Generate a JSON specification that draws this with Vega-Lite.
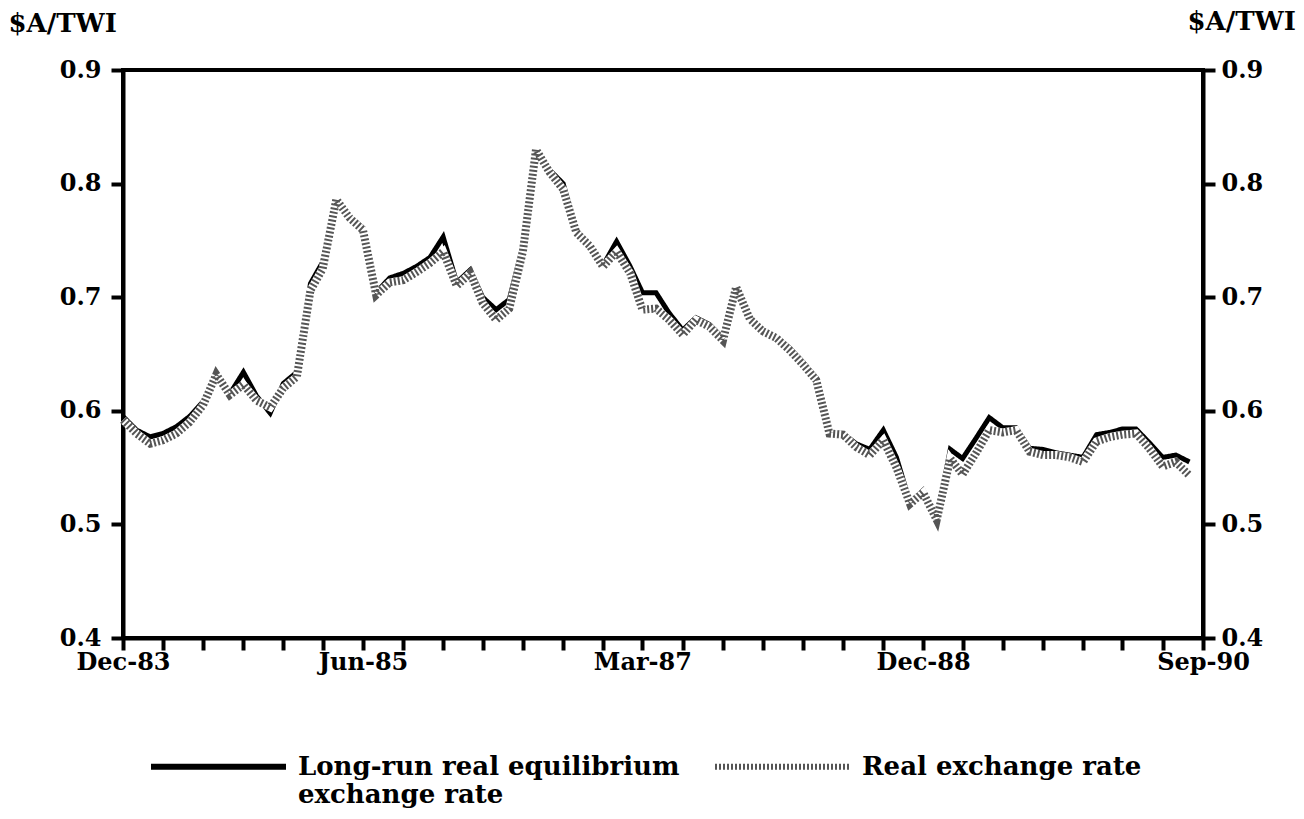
{
  "$schema": "https://vega.github.io/schema/vega-lite/v6.json",
  "width": 1080,
  "height": 568,
  "autosize": {"type": "none"},
  "padding": {"left": 123, "top": 70, "right": 101, "bottom": 181},
  "background": "white",
  "config": {
    "font": "DejaVu Serif",
    "view": {"stroke": "black", "strokeWidth": 4},
    "axis": {
      "grid": false,
      "domainColor": "black",
      "domainWidth": 4,
      "tickColor": "black",
      "tickWidth": 4,
      "tickSize": 12,
      "labelFont": "DejaVu Serif",
      "labelFontSize": 24,
      "labelFontWeight": "bold",
      "labelColor": "black",
      "titleFont": "DejaVu Serif",
      "titleFontSize": 26,
      "titleFontWeight": "bold",
      "titleColor": "black"
    }
  },
  "data": {
    "values": [
      {"date": "1983-12-01", "lr": 0.595, "rer": 0.592},
      {"date": "1984-01-01", "lr": 0.583, "rer": 0.580},
      {"date": "1984-02-01", "lr": 0.577, "rer": 0.571},
      {"date": "1984-03-01", "lr": 0.580, "rer": 0.574},
      {"date": "1984-04-01", "lr": 0.586, "rer": 0.580},
      {"date": "1984-05-01", "lr": 0.595, "rer": 0.590},
      {"date": "1984-06-01", "lr": 0.608, "rer": 0.605},
      {"date": "1984-07-01", "lr": 0.633, "rer": 0.632},
      {"date": "1984-08-01", "lr": 0.615, "rer": 0.614},
      {"date": "1984-09-01", "lr": 0.634, "rer": 0.623},
      {"date": "1984-10-01", "lr": 0.613, "rer": 0.609},
      {"date": "1984-11-01", "lr": 0.598, "rer": 0.603},
      {"date": "1984-12-01", "lr": 0.624, "rer": 0.620},
      {"date": "1985-01-01", "lr": 0.634, "rer": 0.630},
      {"date": "1985-02-01", "lr": 0.712, "rer": 0.706},
      {"date": "1985-03-01", "lr": 0.731, "rer": 0.725},
      {"date": "1985-04-01", "lr": 0.787, "rer": 0.786},
      {"date": "1985-05-01", "lr": 0.771, "rer": 0.770},
      {"date": "1985-06-01", "lr": 0.761, "rer": 0.759},
      {"date": "1985-07-01", "lr": 0.704, "rer": 0.702},
      {"date": "1985-08-01", "lr": 0.717, "rer": 0.713},
      {"date": "1985-09-01", "lr": 0.721, "rer": 0.715},
      {"date": "1985-10-01", "lr": 0.727, "rer": 0.722},
      {"date": "1985-11-01", "lr": 0.735, "rer": 0.730},
      {"date": "1985-12-01", "lr": 0.753, "rer": 0.740},
      {"date": "1986-01-01", "lr": 0.713, "rer": 0.710},
      {"date": "1986-02-01", "lr": 0.724, "rer": 0.721},
      {"date": "1986-03-01", "lr": 0.700, "rer": 0.695},
      {"date": "1986-04-01", "lr": 0.689, "rer": 0.680},
      {"date": "1986-05-01", "lr": 0.698, "rer": 0.690},
      {"date": "1986-06-01", "lr": 0.745, "rer": 0.740},
      {"date": "1986-07-01", "lr": 0.830, "rer": 0.830},
      {"date": "1986-08-01", "lr": 0.812, "rer": 0.810},
      {"date": "1986-09-01", "lr": 0.800, "rer": 0.795},
      {"date": "1986-10-01", "lr": 0.759, "rer": 0.757},
      {"date": "1986-11-01", "lr": 0.746, "rer": 0.745},
      {"date": "1986-12-01", "lr": 0.728, "rer": 0.727},
      {"date": "1987-01-01", "lr": 0.749, "rer": 0.740},
      {"date": "1987-02-01", "lr": 0.727, "rer": 0.721},
      {"date": "1987-03-01", "lr": 0.704, "rer": 0.689},
      {"date": "1987-04-01", "lr": 0.704, "rer": 0.690},
      {"date": "1987-05-01", "lr": 0.686, "rer": 0.680},
      {"date": "1987-06-01", "lr": 0.671, "rer": 0.667},
      {"date": "1987-07-01", "lr": 0.682, "rer": 0.680},
      {"date": "1987-08-01", "lr": 0.676, "rer": 0.674},
      {"date": "1987-09-01", "lr": 0.664, "rer": 0.662},
      {"date": "1987-10-01", "lr": 0.709, "rer": 0.709},
      {"date": "1987-11-01", "lr": 0.682, "rer": 0.681},
      {"date": "1987-12-01", "lr": 0.671, "rer": 0.670},
      {"date": "1988-01-01", "lr": 0.665, "rer": 0.664},
      {"date": "1988-02-01", "lr": 0.655, "rer": 0.653},
      {"date": "1988-03-01", "lr": 0.643, "rer": 0.641},
      {"date": "1988-04-01", "lr": 0.629, "rer": 0.627},
      {"date": "1988-05-01", "lr": 0.581, "rer": 0.580},
      {"date": "1988-06-01", "lr": 0.580, "rer": 0.579},
      {"date": "1988-07-01", "lr": 0.571, "rer": 0.568},
      {"date": "1988-08-01", "lr": 0.566, "rer": 0.561},
      {"date": "1988-09-01", "lr": 0.583, "rer": 0.574},
      {"date": "1988-10-01", "lr": 0.559, "rer": 0.550},
      {"date": "1988-11-01", "lr": 0.519, "rer": 0.518},
      {"date": "1988-12-01", "lr": 0.530, "rer": 0.528},
      {"date": "1989-01-01", "lr": 0.505, "rer": 0.504},
      {"date": "1989-02-01", "lr": 0.566, "rer": 0.558},
      {"date": "1989-03-01", "lr": 0.558, "rer": 0.544},
      {"date": "1989-04-01", "lr": 0.576, "rer": 0.563},
      {"date": "1989-05-01", "lr": 0.594, "rer": 0.583},
      {"date": "1989-06-01", "lr": 0.585, "rer": 0.581},
      {"date": "1989-07-01", "lr": 0.585, "rer": 0.583},
      {"date": "1989-08-01", "lr": 0.567, "rer": 0.564},
      {"date": "1989-09-01", "lr": 0.566, "rer": 0.561},
      {"date": "1989-10-01", "lr": 0.563, "rer": 0.561},
      {"date": "1989-11-01", "lr": 0.561, "rer": 0.559},
      {"date": "1989-12-01", "lr": 0.559, "rer": 0.555},
      {"date": "1990-01-01", "lr": 0.579, "rer": 0.573},
      {"date": "1990-02-01", "lr": 0.581, "rer": 0.577},
      {"date": "1990-03-01", "lr": 0.584, "rer": 0.579},
      {"date": "1990-04-01", "lr": 0.584, "rer": 0.580},
      {"date": "1990-05-01", "lr": 0.572, "rer": 0.567},
      {"date": "1990-06-01", "lr": 0.559, "rer": 0.551},
      {"date": "1990-07-01", "lr": 0.561, "rer": 0.555},
      {"date": "1990-08-01", "lr": 0.555, "rer": 0.543}
    ]
  },
  "transform": [{"fold": ["lr", "rer"], "as": ["series", "value"]}],
  "encoding": {
    "x": {
      "field": "date",
      "type": "temporal",
      "scale": {
        "type": "utc",
        "nice": false,
        "domain": [
          {"year": 1983, "month": 12, "date": 1, "utc": true},
          {"year": 1990, "month": 9, "date": 1, "utc": true}
        ]
      },
      "axis": {
        "title": null,
        "values": [
          {"year": 1983, "month": 12, "date": 1, "utc": true},
          {"year": 1984, "month": 3, "date": 1, "utc": true},
          {"year": 1984, "month": 6, "date": 1, "utc": true},
          {"year": 1984, "month": 9, "date": 1, "utc": true},
          {"year": 1984, "month": 12, "date": 1, "utc": true},
          {"year": 1985, "month": 3, "date": 1, "utc": true},
          {"year": 1985, "month": 6, "date": 1, "utc": true},
          {"year": 1985, "month": 9, "date": 1, "utc": true},
          {"year": 1985, "month": 12, "date": 1, "utc": true},
          {"year": 1986, "month": 3, "date": 1, "utc": true},
          {"year": 1986, "month": 6, "date": 1, "utc": true},
          {"year": 1986, "month": 9, "date": 1, "utc": true},
          {"year": 1986, "month": 12, "date": 1, "utc": true},
          {"year": 1987, "month": 3, "date": 1, "utc": true},
          {"year": 1987, "month": 6, "date": 1, "utc": true},
          {"year": 1987, "month": 9, "date": 1, "utc": true},
          {"year": 1987, "month": 12, "date": 1, "utc": true},
          {"year": 1988, "month": 3, "date": 1, "utc": true},
          {"year": 1988, "month": 6, "date": 1, "utc": true},
          {"year": 1988, "month": 9, "date": 1, "utc": true},
          {"year": 1988, "month": 12, "date": 1, "utc": true},
          {"year": 1989, "month": 3, "date": 1, "utc": true},
          {"year": 1989, "month": 6, "date": 1, "utc": true},
          {"year": 1989, "month": 9, "date": 1, "utc": true},
          {"year": 1989, "month": 12, "date": 1, "utc": true},
          {"year": 1990, "month": 3, "date": 1, "utc": true},
          {"year": 1990, "month": 6, "date": 1, "utc": true},
          {"year": 1990, "month": 9, "date": 1, "utc": true}
        ],
        "labelExpr": "indexof(['Dec-83','Jun-85','Mar-87','Dec-88','Sep-90'], utcFormat(datum.value, '%b-%y')) >= 0 ? utcFormat(datum.value, '%b-%y') : ''",
        "labelPadding": 0,
        "labelFlush": false,
        "labelOverlap": false,
        "labelBound": false
      }
    }
  },
  "layer": [
    {
      "transform": [{"filter": "datum.series == 'lr'"}],
      "mark": {"type": "line", "strokeWidth": 5},
      "encoding": {
        "y": {
          "field": "value",
          "type": "quantitative",
          "scale": {"domain": [0.4, 0.9], "nice": false, "zero": false},
          "axis": {
            "orient": "left",
            "values": [0.4, 0.5, 0.6, 0.7, 0.8, 0.9],
            "format": ".1f",
            "labelPadding": 10,
            "title": "$A/TWI",
            "titleAngle": 0,
            "titleAlign": "left",
            "titleBaseline": "alphabetic",
            "titleX": -115,
            "titleY": -39
          }
        },
        "color": {
          "field": "series",
          "type": "nominal",
          "scale": {"domain": ["lr", "rer"], "range": ["black", "#555555"]},
          "legend": {
            "orient": "none",
            "legendX": 25,
            "legendY": 626,
            "direction": "horizontal",
            "columns": 2,
            "columnPadding": 23,
            "padding": 0,
            "title": null,
            "symbolType": "stroke",
            "symbolSize": 18225,
            "symbolStrokeWidth": 6,
            "labelFont": "DejaVu Serif",
            "labelFontSize": 26,
            "labelFontWeight": "bold",
            "labelColor": "black",
            "labelLimit": 800,
            "labelOffset": 9,
            "labelExpr": "datum.value == 'lr' ? ['Long-run real equilibrium', 'exchange rate'] : ['Real exchange rate', '']"
          }
        },
        "strokeDash": {
          "field": "series",
          "type": "nominal",
          "scale": {"domain": ["lr", "rer"], "range": [[1, 0], [2, 2]]}
        }
      }
    },
    {
      "transform": [{"filter": "datum.series == 'rer'"}],
      "mark": {"type": "line", "strokeWidth": 8, "color": "white"},
      "encoding": {
        "y": {"field": "value", "type": "quantitative", "axis": null}
      }
    },
    {
      "transform": [{"filter": "datum.series == 'rer'"}],
      "mark": {"type": "line", "strokeWidth": 8},
      "encoding": {
        "y": {
          "field": "value",
          "type": "quantitative",
          "axis": {
            "orient": "right",
            "values": [0.4, 0.5, 0.6, 0.7, 0.8, 0.9],
            "format": ".1f",
            "labelPadding": 6,
            "title": "$A/TWI",
            "titleAngle": 0,
            "titleAlign": "left",
            "titleBaseline": "alphabetic",
            "titleX": -16,
            "titleY": -41
          }
        },
        "color": {"field": "series", "type": "nominal"},
        "strokeDash": {"field": "series", "type": "nominal"}
      }
    }
  ],
  "resolve": {"axis": {"y": "independent"}}
}
